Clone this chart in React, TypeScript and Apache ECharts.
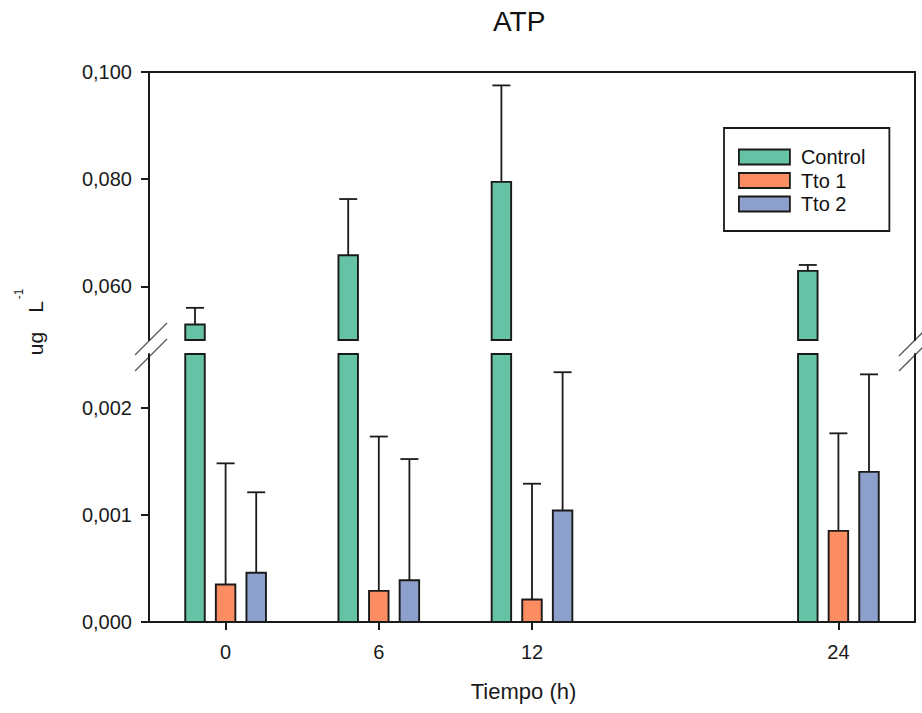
import React, { useEffect, useRef } from 'react';
import * as echarts from 'echarts';

// Sampling times (h)
const hours = [0, 6, 12, 24];

// ATP means (ug L-1) and upper error values per treatment
const control = [0.0529, 0.0658, 0.0795, 0.0629];
const controlErr = [0.0031, 0.0105, 0.018, 0.0011];
const tto1 = [0.00035, 0.00029, 0.00021, 0.00085];
const tto1Err = [0.00113, 0.00144, 0.00108, 0.00091];
const tto2 = [0.00046, 0.00039, 0.00104, 0.0014];
const tto2Err = [0.00075, 0.00113, 0.00129, 0.00091];

// Axis ticks for the two panels of the broken y axis
const upperTicks = [0.06, 0.08, 0.1];
const lowerTicks = [0, 0.001, 0.002];
const hourTicks = [0, 6, 12, 24];

const UPPER_MIN = 0.05;
const UPPER_MAX = 0.1;
const LOWER_MIN = 0;
const LOWER_MAX = 0.0025;
const X_MIN = -3;
const X_MAX = 27;

// Layout
const W = 922;
const H = 713;
const LEFT = 149;
const RIGHT = 7;
const UP_TOP = 72;
const PANEL_H = 268;
const LO_TOP = 354;

const FONT = '"Liberation Sans", Arial, Helvetica, sans-serif';
const EDGE = '#1a1a1a';
const GREEN = '#66c2a5';
const ORANGE = '#fc8d62';
const BLUE = '#8da0cb';
const BAR_W = 19.5;
const CAP_W = 18;
const OFFSET = 30.6;
const LINE_W = 2;
const TICK_LEN = 8;

const fmt = (v: number) => v.toFixed(3).replace('.', ',');

function barRenderer(offset: number, panelMin: number, panelMax: number, withError: boolean) {
  return (_params: any, api: any) => {
    const x = api.value(0);
    const v = api.value(1);
    const e = api.value(2);
    const top = api.coord([x, Math.min(v, panelMax)]);
    const base = api.coord([x, panelMin]);
    const cx = top[0] + offset;
    const children: any[] = [];
    if (withError) {
      const hi = api.coord([x, v + e]);
      children.push({
        type: 'line',
        shape: { x1: cx, y1: top[1], x2: cx, y2: hi[1] },
        style: { stroke: EDGE, lineWidth: 1.8 },
      });
      children.push({
        type: 'line',
        shape: { x1: cx - CAP_W / 2, y1: hi[1], x2: cx + CAP_W / 2, y2: hi[1] },
        style: { stroke: EDGE, lineWidth: 1.8 },
      });
    }
    children.push({
      type: 'rect',
      shape: { x: cx - BAR_W / 2, y: top[1], width: BAR_W, height: base[1] - top[1] },
      style: { fill: api.visual('color'), stroke: EDGE, lineWidth: 1.9 },
    });
    return { type: 'group', children };
  };
}

const rows = (vals: number[], errs: number[]) => hours.map((h, i) => [h, vals[i], errs[i]]);

function breakMark(cx: number, cy: number) {
  return {
    type: 'line',
    silent: true,
    shape: { x1: cx - 16, y1: cy + 16, x2: cx + 16, y2: cy - 16 },
    style: { stroke: '#5a5a5a', lineWidth: 1.3 },
  };
}

export default function App() {
  const ref = useRef<HTMLDivElement>(null);

  useEffect(() => {
    if (!ref.current) return;
    const chart = echarts.init(ref.current, undefined, { renderer: 'svg' });
    const upBottom = UP_TOP + PANEL_H;
    const rightX = W - RIGHT;

    const axisLine = { show: true, onZero: false, lineStyle: { color: EDGE, width: LINE_W } };
    const tick = (values: number[]) => ({
      show: true,
      length: TICK_LEN,
      customValues: values,
      lineStyle: { color: EDGE, width: LINE_W },
    });
    const label = { fontFamily: FONT, fontSize: 20, color: '#1a1a1a' };
    const plain = {
      axisTick: { show: false },
      axisLabel: { show: false },
      splitLine: { show: false },
    };

    chart.setOption({
      animation: false,
      backgroundColor: '#fff',
      title: {
        text: 'ATP',
        left: 493,
        top: 7,
        padding: 0,
        textStyle: { fontFamily: FONT, fontSize: 28, fontWeight: 'normal', color: '#111' },
      },
      legend: {
        orient: 'vertical',
        left: 724,
        top: 128,
        padding: [19, 24, 17, 14],
        itemWidth: 51,
        itemHeight: 15,
        itemGap: 3.5,
        icon: 'rect',
        selectedMode: false,
        borderColor: EDGE,
        borderWidth: 1.8,
        textStyle: { fontFamily: FONT, fontSize: 20, color: '#111', padding: [0, 0, 0, 6] },
        data: [
          { name: 'Control', itemStyle: { color: GREEN, borderColor: EDGE, borderWidth: 1.8 } },
          { name: 'Tto 1', itemStyle: { color: ORANGE, borderColor: EDGE, borderWidth: 1.8 } },
          { name: 'Tto 2', itemStyle: { color: BLUE, borderColor: EDGE, borderWidth: 1.8 } },
        ],
      },
      grid: [
        { left: LEFT, right: RIGHT, top: UP_TOP, height: PANEL_H },
        { left: LEFT, right: RIGHT, top: LO_TOP, height: PANEL_H },
      ],
      xAxis: [
        {
          type: 'value',
          gridIndex: 0,
          min: X_MIN,
          max: X_MAX,
          position: 'top',
          axisLine,
          ...plain,
        },
        {
          type: 'value',
          gridIndex: 1,
          min: X_MIN,
          max: X_MAX,
          position: 'bottom',
          axisLine,
          axisTick: tick(hourTicks),
          axisLabel: { ...label, margin: 20, customValues: hourTicks },
          splitLine: { show: false },
          name: 'Tiempo (h)',
          nameLocation: 'middle',
          nameGap: 58,
          nameTextStyle: { fontFamily: FONT, fontSize: 22, color: '#1a1a1a', padding: [0, 17, 0, 0] },
        },
      ],
      yAxis: [
        {
          type: 'value',
          gridIndex: 0,
          min: UPPER_MIN,
          max: UPPER_MAX,
          position: 'left',
          axisLine,
          axisTick: tick(upperTicks),
          axisLabel: { ...label, margin: 17, customValues: upperTicks, formatter: fmt },
          splitLine: { show: false },
        },
        {
          type: 'value',
          gridIndex: 0,
          min: UPPER_MIN,
          max: UPPER_MAX,
          position: 'right',
          axisLine,
          ...plain,
        },
        {
          type: 'value',
          gridIndex: 1,
          min: LOWER_MIN,
          max: LOWER_MAX,
          position: 'left',
          axisLine,
          axisTick: tick(lowerTicks),
          axisLabel: { ...label, margin: 17, customValues: lowerTicks, formatter: fmt },
          splitLine: { show: false },
        },
        {
          type: 'value',
          gridIndex: 1,
          min: LOWER_MIN,
          max: LOWER_MAX,
          position: 'right',
          axisLine,
          ...plain,
        },
      ],
      series: [
        {
          name: 'Control',
          type: 'custom',
          xAxisIndex: 0,
          yAxisIndex: 0,
          itemStyle: { color: GREEN, borderColor: EDGE, borderWidth: 1.8 },
          encode: { x: 0, y: 1 },
          data: rows(control, controlErr),
          renderItem: barRenderer(-OFFSET, UPPER_MIN, UPPER_MAX, true),
        },
        {
          name: 'Control',
          type: 'custom',
          xAxisIndex: 1,
          yAxisIndex: 2,
          itemStyle: { color: GREEN, borderColor: EDGE, borderWidth: 1.8 },
          encode: { x: 0, y: 1 },
          data: rows(control, controlErr),
          renderItem: barRenderer(-OFFSET, LOWER_MIN, LOWER_MAX, false),
        },
        {
          name: 'Tto 1',
          type: 'custom',
          xAxisIndex: 1,
          yAxisIndex: 2,
          itemStyle: { color: ORANGE, borderColor: EDGE, borderWidth: 1.8 },
          encode: { x: 0, y: 1 },
          data: rows(tto1, tto1Err),
          renderItem: barRenderer(0, LOWER_MIN, LOWER_MAX, true),
        },
        {
          name: 'Tto 2',
          type: 'custom',
          xAxisIndex: 1,
          yAxisIndex: 2,
          itemStyle: { color: BLUE, borderColor: EDGE, borderWidth: 1.8 },
          encode: { x: 0, y: 1 },
          data: rows(tto2, tto2Err),
          renderItem: barRenderer(OFFSET, LOWER_MIN, LOWER_MAX, true),
        },
      ],
      graphic: [
        breakMark(LEFT + 2, upBottom - 1),
        breakMark(LEFT + 2, LO_TOP + 1),
        breakMark(rightX, upBottom),
        breakMark(rightX, LO_TOP + 1),
        {
          type: 'text',
          x: 35,
          y: 343.5,
          rotation: Math.PI / 2,
          style: { text: 'ug', fontFamily: FONT, fontSize: 21, fill: '#1a1a1a', align: 'center', verticalAlign: 'middle' },
        },
        {
          type: 'text',
          x: 35,
          y: 307,
          rotation: Math.PI / 2,
          style: { text: 'L', fontFamily: FONT, fontSize: 21, fill: '#1a1a1a', align: 'center', verticalAlign: 'middle' },
        },
        {
          type: 'text',
          x: 19,
          y: 294,
          rotation: Math.PI / 2,
          style: { text: '-1', fontFamily: FONT, fontSize: 12, fill: '#1a1a1a', align: 'center', verticalAlign: 'middle' },
        },
      ],
    });

    return () => chart.dispose();
  }, []);

  return (
    <div
      ref={ref}
      style={{ position: 'fixed', left: 0, top: 0, width: W, height: H, background: '#fff' }}
    />
  );
}
